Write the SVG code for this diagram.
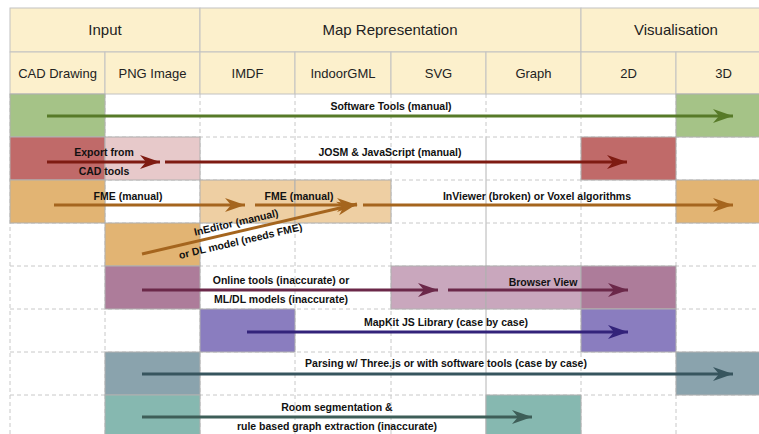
<svg xmlns="http://www.w3.org/2000/svg" width="759" height="434" viewBox="0 0 759 434">
<style>
.hd{fill:#fcf0cc;stroke:#c2c2c2;stroke-width:1}
.h1{font-family:"Liberation Sans",Arial,sans-serif;font-size:15px;fill:#222;text-anchor:middle}
.h2{font-family:"Liberation Sans",Arial,sans-serif;font-size:13px;fill:#222;text-anchor:middle}
.dl{stroke:#c8c8c8;stroke-width:1;stroke-dasharray:4 3;fill:none}
.sl{stroke:#b4b4b4;stroke-width:1;fill:none}
.cell{stroke:#b0b0b0;stroke-width:1}
.lb{font-family:"Liberation Sans",Arial,sans-serif;font-size:10.5px;font-weight:bold;fill:#111;text-anchor:middle}
.ar{stroke-width:3;fill:none}
</style>
<defs>
<marker id="mg" markerUnits="userSpaceOnUse" markerWidth="22" markerHeight="16" refX="20" refY="8" orient="auto"><path d="M0,1 L20,8 L0,15 L6,8 Z" fill="#577a28"/></marker>
<marker id="mr" markerUnits="userSpaceOnUse" markerWidth="22" markerHeight="16" refX="20" refY="8" orient="auto"><path d="M0,1 L20,8 L0,15 L6,8 Z" fill="#7e1b12"/></marker>
<marker id="mo" markerUnits="userSpaceOnUse" markerWidth="22" markerHeight="16" refX="20" refY="8" orient="auto"><path d="M0,1 L20,8 L0,15 L6,8 Z" fill="#a5651e"/></marker>
<marker id="mp" markerUnits="userSpaceOnUse" markerWidth="22" markerHeight="16" refX="20" refY="8" orient="auto"><path d="M0,1 L20,8 L0,15 L6,8 Z" fill="#6b2849"/></marker>
<marker id="mv" markerUnits="userSpaceOnUse" markerWidth="22" markerHeight="16" refX="20" refY="8" orient="auto"><path d="M0,1 L20,8 L0,15 L6,8 Z" fill="#33237a"/></marker>
<marker id="ms" markerUnits="userSpaceOnUse" markerWidth="22" markerHeight="16" refX="20" refY="8" orient="auto"><path d="M0,1 L20,8 L0,15 L6,8 Z" fill="#37555e"/></marker>
<marker id="mt" markerUnits="userSpaceOnUse" markerWidth="22" markerHeight="16" refX="20" refY="8" orient="auto"><path d="M0,1 L20,8 L0,15 L6,8 Z" fill="#3e5e58"/></marker>
</defs>
<rect x="0" y="0" width="759" height="434" fill="#fff"/>

<g id="header">
<rect class="hd" x="10" y="8" width="190" height="44"/>
<rect class="hd" x="200" y="8" width="381" height="44"/>
<rect class="hd" x="581" y="8" width="190" height="44"/>
<rect class="hd" x="10" y="52" width="95" height="42"/>
<rect class="hd" x="105" y="52" width="95" height="42"/>
<rect class="hd" x="200" y="52" width="95" height="42"/>
<rect class="hd" x="295" y="52" width="96" height="42"/>
<rect class="hd" x="391" y="52" width="95" height="42"/>
<rect class="hd" x="486" y="52" width="95" height="42"/>
<rect class="hd" x="581" y="52" width="95" height="42"/>
<rect class="hd" x="676" y="52" width="95" height="42"/>
<text class="h1" x="105" y="35">Input</text>
<text class="h1" x="390" y="35">Map Representation</text>
<text class="h1" x="676" y="35">Visualisation</text>
<text class="h2" x="57.5" y="78">CAD Drawing</text>
<text class="h2" x="152.5" y="78">PNG Image</text>
<text class="h2" x="247.5" y="78">IMDF</text>
<text class="h2" x="343" y="78">IndoorGML</text>
<text class="h2" x="438.5" y="78">SVG</text>
<text class="h2" x="533.5" y="78">Graph</text>
<text class="h2" x="628.5" y="78">2D</text>
<text class="h2" x="723.5" y="78">3D</text>
</g>

<g id="grid">
<path class="dl" d="M10,94V434 M105,94V434 M200,94V434 M295,94V434 M391,94V434 M581,94V434 M676,94V434"/>
<path class="sl" d="M486,137V434"/>
<path class="dl" d="M486,94V137"/>
<path class="dl" d="M10,137H759 M10,180H759 M10,223H759 M10,266H759 M10,309H759 M10,352H759 M10,395H759"/>
</g>

<g id="cells">
<rect class="cell" x="10" y="94" width="95" height="43" fill="#a5c387"/>
<rect class="cell" x="676" y="94" width="95" height="43" fill="#a5c387"/>
<rect class="cell" x="10" y="137" width="95" height="43" fill="#c06a69"/>
<rect class="cell" x="105" y="137" width="95" height="43" fill="#e7c9ca"/>
<rect class="cell" x="581" y="137" width="95" height="43" fill="#c06a69"/>
<rect class="cell" x="10" y="180" width="95" height="43" fill="#e2b473"/>
<rect class="cell" x="200" y="180" width="95" height="43" fill="#eecfa3"/>
<rect class="cell" x="295" y="180" width="96" height="43" fill="#eecfa3"/>
<rect class="cell" x="676" y="180" width="95" height="43" fill="#e2b473"/>
<rect class="cell" x="105" y="223" width="95" height="43" fill="#e2b473"/>
<rect class="cell" x="105" y="266" width="95" height="43" fill="#ad7c9a"/>
<rect class="cell" x="391" y="266" width="95" height="43" fill="#c9a7bd"/>
<rect class="cell" x="486" y="266" width="95" height="43" fill="#c9a7bd"/>
<rect class="cell" x="581" y="266" width="95" height="43" fill="#ad7c9a"/>
<rect class="cell" x="200" y="309" width="95" height="43" fill="#8a7dbf"/>
<rect class="cell" x="581" y="309" width="95" height="43" fill="#8a7dbf"/>
<rect class="cell" x="105" y="352" width="95" height="43" fill="#8aa3ad"/>
<rect class="cell" x="676" y="352" width="95" height="43" fill="#8aa3ad"/>
<rect class="cell" x="105" y="395" width="95" height="43" fill="#86b8b0"/>
<rect class="cell" x="486" y="395" width="95" height="43" fill="#86b8b0"/>
</g>

<g id="connectors">
<line class="ar" x1="47" y1="116" x2="733" y2="116" stroke="#577a28" marker-end="url(#mg)"/>
<line class="ar" x1="47" y1="162" x2="160" y2="162" stroke="#7e1b12" marker-end="url(#mr)"/>
<line class="ar" x1="165" y1="162" x2="627" y2="162" stroke="#7e1b12" marker-end="url(#mr)"/>
<line class="ar" x1="54" y1="205" x2="245" y2="205" stroke="#a5651e" marker-end="url(#mo)"/>
<line class="ar" x1="255" y1="205" x2="357" y2="205" stroke="#a5651e" marker-end="url(#mo)"/>
<line class="ar" x1="363" y1="205" x2="733" y2="205" stroke="#a5651e" marker-end="url(#mo)"/>
<line class="ar" x1="142" y1="254" x2="357" y2="204" stroke="#a5651e" marker-end="url(#mo)"/>
<line class="ar" x1="142" y1="290" x2="438" y2="290" stroke="#6b2849" marker-end="url(#mp)"/>
<line class="ar" x1="448" y1="290" x2="628" y2="290" stroke="#6b2849" marker-end="url(#mp)"/>
<line class="ar" x1="247" y1="332" x2="628" y2="332" stroke="#33237a" marker-end="url(#mv)"/>
<line class="ar" x1="142" y1="374" x2="733" y2="374" stroke="#37555e" marker-end="url(#ms)"/>
<line class="ar" x1="142" y1="417" x2="532" y2="417" stroke="#3e5e58" marker-end="url(#mt)"/>
</g>

<g id="labels">
<text class="lb" x="391" y="110">Software Tools (manual)</text>
<text class="lb" x="104" y="156">Export from</text>
<text class="lb" x="104" y="175">CAD tools</text>
<text class="lb" x="390" y="156">JOSM &amp; JavaScript (manual)</text>
<text class="lb" x="128" y="200">FME (manual)</text>
<text class="lb" x="299" y="200">FME (manual)</text>
<text class="lb" x="537" y="200">InViewer (broken) or Voxel algorithms</text>
<g transform="translate(237,226) rotate(-13.15)">
<text class="lb" x="0" y="0">InEditor (manual)</text>
<text class="lb" x="0" y="19">or DL model (needs FME)</text>
</g>
<text class="lb" x="281" y="284">Online tools (inaccurate) or</text>
<text class="lb" x="281" y="303">ML/DL models (inaccurate)</text>
<text class="lb" x="543" y="286">Browser View</text>
<text class="lb" x="446" y="326">MapKit JS Library (case by case)</text>
<text class="lb" x="446" y="367">Parsing w/ Three.js or with software tools (case by case)</text>
<text class="lb" x="337" y="411">Room segmentation &amp;</text>
<text class="lb" x="337" y="430">rule based graph extraction (inaccurate)</text>
</g>
</svg>
